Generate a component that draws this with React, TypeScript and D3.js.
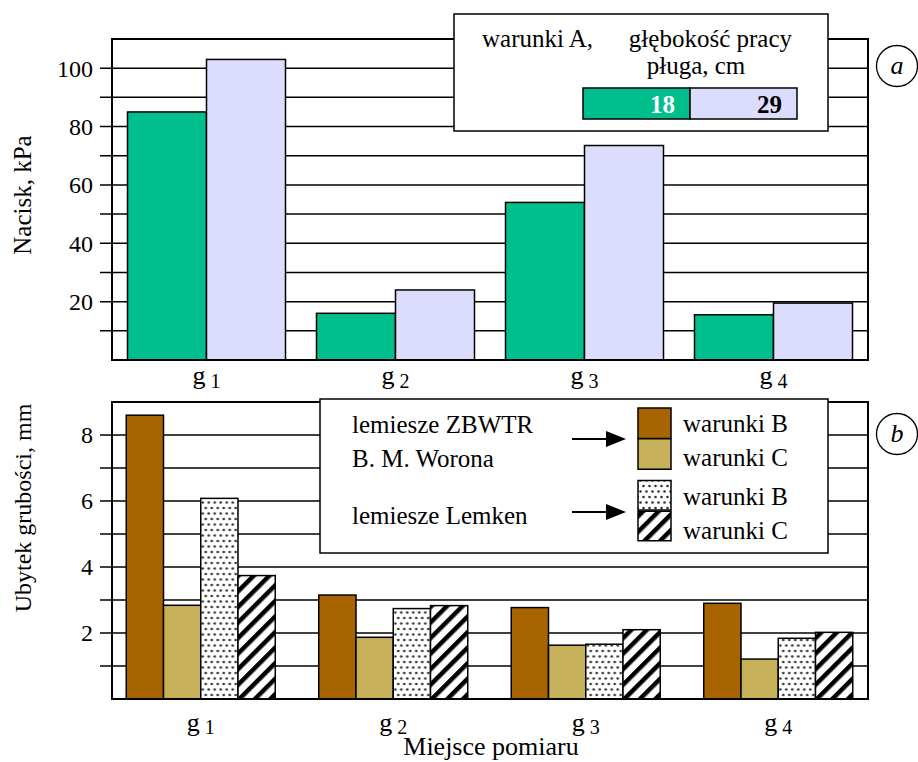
import React, { useEffect, useRef } from "react";
import * as d3 from "d3";

// wspólne kategorie
const places = ["1", "2", "3", "4"];

// wykres a – nacisk, kPa
const depths = ["18", "29"];
const nacisk18 = [85, 16, 54, 15.5];
const nacisk29 = [103, 24, 73.5, 19.5];
const naciskTicks = [20, 40, 60, 80, 100];

// wykres b – ubytek grubości, mm
const seriesB = ["zbwtrB", "zbwtrC", "lemkenB", "lemkenC"];
const zbwtrB = [8.6, 3.15, 2.77, 2.9];
const zbwtrC = [2.84, 1.87, 1.63, 1.21];
const lemkenB = [6.08, 2.74, 1.66, 1.84];
const lemkenC = [3.74, 2.83, 2.1, 2.02];
const ubytekTicks = [2, 4, 6, 8];

const FONT = '"Liberation Serif", "Times New Roman", serif';
const GREEN = "#00bf8c";
const LAV = "#dcdcfd";
const BROWN = "#a86400";
const TAN = "#c6b05a";

const App = () => {
  const svgRef = useRef<SVGSVGElement>(null);

  useEffect(() => {
    const svg = d3.select(svgRef.current);
    svg.selectAll("*").remove();

    const defs = svg.append("defs");
    const dots = defs
      .append("pattern")
      .attr("id", "dots")
      .attr("patternUnits", "userSpaceOnUse")
      .attr("width", 6)
      .attr("height", 11);
    dots.append("rect").attr("width", 6).attr("height", 11).attr("fill", "#fff");
    dots.append("circle").attr("cx", 1.5).attr("cy", 2).attr("r", 1.3).attr("fill", "#333");
    dots.append("circle").attr("cx", 4.5).attr("cy", 7.5).attr("r", 1.3).attr("fill", "#333");

    const hatch = defs
      .append("pattern")
      .attr("id", "hatch")
      .attr("patternUnits", "userSpaceOnUse")
      .attr("width", 11)
      .attr("height", 11)
      .attr("patternTransform", "rotate(45)");
    hatch.append("rect").attr("width", 11).attr("height", 11).attr("fill", "#fff");
    hatch.append("rect").attr("width", 4.5).attr("height", 11).attr("fill", "#000");

    const left = 112;
    const right = 868;

    // ---------- wykres a ----------
    const ya = d3.scaleLinear().domain([0, 110]).range([360, 39]);
    const xa = d3
      .scaleBand()
      .domain(places)
      .range([left, right])
      .paddingInner(0.164)
      .paddingOuter(0.082);
    const xaSub = d3.scaleBand().domain(depths).range([0, xa.bandwidth()]);

    const ga = svg.append("g");
    ga.selectAll("line.grid")
      .data(d3.range(10, 110, 10))
      .enter()
      .append("line")
      .attr("x1", left - 12)
      .attr("x2", right)
      .attr("y1", (d) => ya(d))
      .attr("y2", (d) => ya(d))
      .attr("stroke", "#000")
      .attr("stroke-width", 1.5);

    const dataA = places.map((p, i) => ({ p, v: [nacisk18[i], nacisk29[i]] }));
    ga.selectAll("g.grp")
      .data(dataA)
      .enter()
      .append("g")
      .attr("transform", (d) => `translate(${xa(d.p)},0)`)
      .selectAll("rect")
      .data((d) => d.v.map((v, j) => ({ k: depths[j], v })))
      .enter()
      .append("rect")
      .attr("x", (d) => xaSub(d.k)!)
      .attr("y", (d) => ya(d.v))
      .attr("width", xaSub.bandwidth())
      .attr("height", (d) => ya(0) - ya(d.v))
      .attr("fill", (d) => (d.k === "18" ? GREEN : LAV))
      .attr("stroke", "#000")
      .attr("stroke-width", 1.5);

    ga.append("rect")
      .attr("x", left)
      .attr("y", ya(110))
      .attr("width", right - left)
      .attr("height", ya(0) - ya(110))
      .attr("fill", "none")
      .attr("stroke", "#000")
      .attr("stroke-width", 2);

    ga.selectAll("text.tick")
      .data(naciskTicks)
      .enter()
      .append("text")
      .attr("x", 93)
      .attr("y", (d) => ya(d))
      .attr("dy", "0.35em")
      .attr("text-anchor", "end")
      .attr("font-family", FONT)
      .attr("font-size", 24)
      .text((d) => d);

    const labA = ga
      .selectAll("text.cat")
      .data(places)
      .enter()
      .append("text")
      .attr("x", (d) => xa(d)! + xa.bandwidth() / 2)
      .attr("y", 384)
      .attr("text-anchor", "middle")
      .attr("font-family", FONT)
      .attr("font-size", 26);
    labA.append("tspan").text("g");
    labA.append("tspan").attr("font-size", 20).attr("dy", 4).text((d) => " " + d);

    ga.append("text")
      .attr("transform", `translate(31,195) rotate(-90)`)
      .attr("text-anchor", "middle")
      .attr("font-family", FONT)
      .attr("font-size", 25)
      .text("Nacisk, kPa");

    // legenda a
    const la = svg.append("g");
    la.append("rect")
      .attr("x", 454)
      .attr("y", 14)
      .attr("width", 374)
      .attr("height", 117)
      .attr("fill", "#fff")
      .attr("stroke", "#000")
      .attr("stroke-width", 1.5);
    la.append("text")
      .attr("x", 482)
      .attr("y", 47)
      .attr("font-family", FONT)
      .attr("font-size", 25)
      .text("warunki A,");
    la.append("text")
      .attr("x", 792)
      .attr("y", 47)
      .attr("text-anchor", "end")
      .attr("font-family", FONT)
      .attr("font-size", 25)
      .text("głębokość pracy");
    la.append("text")
      .attr("x", 696)
      .attr("y", 74)
      .attr("text-anchor", "middle")
      .attr("font-family", FONT)
      .attr("font-size", 25)
      .text("pługa, cm");
    const legX = d3.scaleBand().domain(depths).range([583, 797]);
    la.selectAll("rect.sw")
      .data(depths)
      .enter()
      .append("rect")
      .attr("x", (d) => legX(d)!)
      .attr("y", 88)
      .attr("width", legX.bandwidth())
      .attr("height", 31)
      .attr("fill", (d) => (d === "18" ? GREEN : LAV))
      .attr("stroke", "#000")
      .attr("stroke-width", 1.5);
    la.selectAll("text.sw")
      .data(depths)
      .enter()
      .append("text")
      .attr("x", (d) => legX(d)! + legX.bandwidth() - 15)
      .attr("y", 113)
      .attr("text-anchor", "end")
      .attr("font-family", FONT)
      .attr("font-size", 25)
      .attr("font-weight", "bold")
      .attr("fill", (d) => (d === "18" ? "#fff" : "#000"))
      .text((d) => d);

    // ---------- wykres b ----------
    const yb = d3.scaleLinear().domain([0, 9]).range([699, 402]);
    const xb = d3
      .scaleBand()
      .domain(places)
      .range([104.5, 874.5])
      .paddingInner(0.226)
      .paddingOuter(0.113);
    const xbSub = d3.scaleBand().domain(seriesB).range([0, xb.bandwidth()]);
    const fills: Record<string, string> = {
      zbwtrB: BROWN,
      zbwtrC: TAN,
      lemkenB: "url(#dots)",
      lemkenC: "url(#hatch)",
    };

    const gb = svg.append("g");
    gb.selectAll("line.grid")
      .data(d3.range(1, 9))
      .enter()
      .append("line")
      .attr("x1", left - 12)
      .attr("x2", right)
      .attr("y1", (d) => yb(d))
      .attr("y2", (d) => yb(d))
      .attr("stroke", "#000")
      .attr("stroke-width", 1.5);

    const dataB = places.map((p, i) => ({
      p,
      v: [zbwtrB[i], zbwtrC[i], lemkenB[i], lemkenC[i]],
    }));
    gb.selectAll("g.grp")
      .data(dataB)
      .enter()
      .append("g")
      .attr("transform", (d) => `translate(${xb(d.p)},0)`)
      .selectAll("rect")
      .data((d) => d.v.map((v, j) => ({ k: seriesB[j], v })))
      .enter()
      .append("rect")
      .attr("x", (d) => xbSub(d.k)!)
      .attr("y", (d) => yb(d.v))
      .attr("width", xbSub.bandwidth())
      .attr("height", (d) => yb(0) - yb(d.v))
      .attr("fill", (d) => fills[d.k])
      .attr("stroke", "#000")
      .attr("stroke-width", 1.5);

    gb.append("rect")
      .attr("x", left)
      .attr("y", yb(9))
      .attr("width", right - left)
      .attr("height", yb(0) - yb(9))
      .attr("fill", "none")
      .attr("stroke", "#000")
      .attr("stroke-width", 2);

    gb.selectAll("text.tick")
      .data(ubytekTicks)
      .enter()
      .append("text")
      .attr("x", 93)
      .attr("y", (d) => yb(d))
      .attr("dy", "0.35em")
      .attr("text-anchor", "end")
      .attr("font-family", FONT)
      .attr("font-size", 24)
      .text((d) => d);

    const labB = gb
      .selectAll("text.cat")
      .data(places)
      .enter()
      .append("text")
      .attr("x", (d) => xb(d)! + xb.bandwidth() / 2)
      .attr("y", 731)
      .attr("text-anchor", "middle")
      .attr("font-family", FONT)
      .attr("font-size", 26);
    labB.append("tspan").text("g");
    labB.append("tspan").attr("font-size", 20).attr("dy", 3).text((d) => " " + d);

    gb.append("text")
      .attr("transform", `translate(31,508) rotate(-90)`)
      .attr("text-anchor", "middle")
      .attr("font-family", FONT)
      .attr("font-size", 24)
      .text("Ubytek grubości, mm");

    svg.append("text")
      .attr("x", 491)
      .attr("y", 755)
      .attr("text-anchor", "middle")
      .attr("font-family", FONT)
      .attr("font-size", 26)
      .text("Miejsce pomiaru");

    // legenda b
    const lb = svg.append("g");
    lb.append("rect")
      .attr("x", 320)
      .attr("y", 399)
      .attr("width", 508)
      .attr("height", 154)
      .attr("fill", "#fff")
      .attr("stroke", "#000")
      .attr("stroke-width", 1.5);
    const txt = (x: number, y: number, s: string) =>
      lb.append("text")
        .attr("x", x)
        .attr("y", y)
        .attr("font-family", FONT)
        .attr("font-size", 25)
        .text(s);
    txt(352, 433, "lemiesze ZBWTR");
    txt(352, 467, "B. M. Worona");
    txt(352, 524, "lemiesze Lemken");
    [439, 512].forEach((y) => {
      lb.append("line")
        .attr("x1", 572)
        .attr("x2", 610)
        .attr("y1", y)
        .attr("y2", y)
        .attr("stroke", "#000")
        .attr("stroke-width", 2);
      lb.append("path")
        .attr("d", `M606,${y - 8}L626,${y}L606,${y + 8}Z`)
        .attr("fill", "#000");
    });
    const swY = d3.scaleBand().domain(seriesB).range([408, 543]);
    const swOffset: Record<string, number> = { zbwtrB: 0, zbwtrC: -3, lemkenB: 5, lemkenC: 2 };
    lb.selectAll("rect.sw")
      .data(seriesB)
      .enter()
      .append("rect")
      .attr("x", 638)
      .attr("y", (d) => swY(d)! + swOffset[d])
      .attr("width", 33)
      .attr("height", (d) => (d.startsWith("lemken") ? 29.5 : 30.5))
      .attr("fill", (d) => fills[d])
      .attr("stroke", "#000")
      .attr("stroke-width", 1.5);
    const swLabel: Record<string, [number, string]> = {
      zbwtrB: [432, "warunki B"],
      zbwtrC: [466, "warunki C"],
      lemkenB: [505, "warunki B"],
      lemkenC: [539, "warunki C"],
    };
    seriesB.forEach((k) => txt(683, swLabel[k][0], swLabel[k][1]));

    // oznaczenia a / b
    [
      [66, "a"],
      [434, "b"],
    ].forEach(([cy, s]) => {
      svg.append("circle")
        .attr("cx", 897)
        .attr("cy", cy as number)
        .attr("r", 20.5)
        .attr("fill", "#fff")
        .attr("stroke", "#000")
        .attr("stroke-width", 1.3);
      svg.append("text")
        .attr("x", 897)
        .attr("y", (cy as number) + 8)
        .attr("text-anchor", "middle")
        .attr("font-family", FONT)
        .attr("font-style", "italic")
        .attr("font-size", 26)
        .text(s as string);
    });
  }, []);

  return (
    <svg
      ref={svgRef}
      width={918}
      height={762}
      style={{ position: "absolute", left: 0, top: 0, background: "#fff" }}
    />
  );
};

export default App;
